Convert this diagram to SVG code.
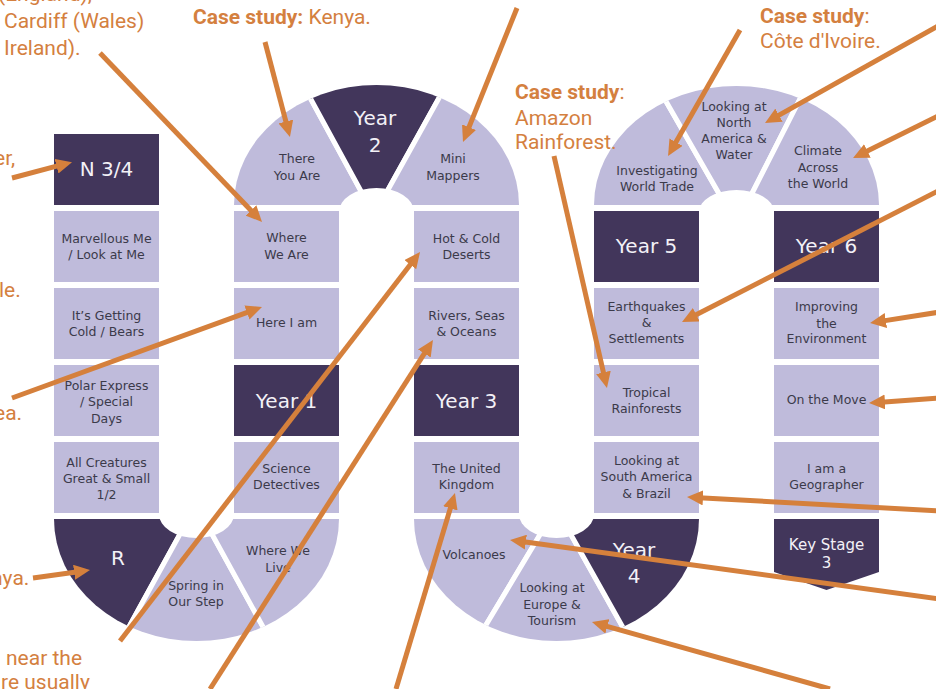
<svg xmlns="http://www.w3.org/2000/svg" width="936" height="689" viewBox="0 0 936 689">
<style>
.light{fill:#BFBBDB}
.dark{fill:#42365B}
.seg{stroke:#fff;stroke-width:5}
.t{font-family:"DejaVu Sans",sans-serif;font-size:12.5px;fill:#3b3a4a;text-anchor:middle}
.y{font-family:"DejaVu Sans",sans-serif;font-size:20px;fill:#F3F1F7;text-anchor:middle}
.k{font-family:"DejaVu Sans",sans-serif;font-size:15px;fill:#F3F1F7;text-anchor:middle}
.a{font-family:Roboto,sans-serif;font-size:21px;fill:#D4803F}
.b{font-weight:bold}
.hole{fill:#fff}
.arrow{stroke:#D5803C;stroke-width:5;fill:none;marker-end:url(#ah)}
</style>
<defs>
<marker id="ah" markerUnits="userSpaceOnUse" markerWidth="16" markerHeight="15" refX="4" refY="7.5" orient="auto" viewBox="0 0 16 15"><path d="M0,0 L16,7.5 L0,15 z" fill="#D5803C"/></marker>
<clipPath id="clipA"><path d="M234,205 A142.5,120 0 0 1 519,205 Z"/></clipPath>
<clipPath id="clipB"><path d="M594,205 A142.5,119 0 0 1 879,205 Z"/></clipPath>
<clipPath id="clipC"><path d="M54,519 A142.5,122 0 0 0 339,519 Z"/></clipPath>
<clipPath id="clipD"><path d="M414,519 A142.5,122 0 0 0 699,519 Z"/></clipPath>
</defs>
<rect width="936" height="689" fill="#fff"/>

<!-- Column 1 -->
<g id="n34"><rect class="dark" x="54" y="134" width="105" height="71"/><text class="y" x="106.5" y="176">N 3/4</text></g>
<g id="marvellous"><rect class="light" x="54" y="211" width="105" height="71"/><text class="t" x="106.5" y="242.5">Marvellous Me</text><text class="t" x="106.5" y="258.5">/ Look at Me</text></g>
<g id="getting-cold"><rect class="light" x="54" y="288" width="105" height="71"/><text class="t" x="106.5" y="319.5">It’s Getting</text><text class="t" x="106.5" y="335.5">Cold / Bears</text></g>
<g id="polar-express"><rect class="light" x="54" y="365" width="105" height="71"/><text class="t" x="106.5" y="389.5">Polar Express</text><text class="t" x="106.5" y="406">/ Special</text><text class="t" x="106.5" y="422.5">Days</text></g>
<g id="all-creatures"><rect class="light" x="54" y="442" width="105" height="71"/><text class="t" x="106.5" y="467">All Creatures</text><text class="t" x="106.5" y="483">Great &amp; Small</text><text class="t" x="106.5" y="499">1/2</text></g>

<!-- Column 2 -->
<g id="where-we-are"><rect class="light" x="234" y="211" width="105" height="71"/><text class="t" x="286.5" y="242">Where</text><text class="t" x="286.5" y="258.5">We Are</text></g>
<g id="here-i-am"><rect class="light" x="234" y="288" width="105" height="71"/><text class="t" x="286.5" y="327">Here I am</text></g>
<g id="year1"><rect class="dark" x="234" y="365" width="105" height="71"/><text class="y" x="286.5" y="407.5">Year 1</text></g>
<g id="science"><rect class="light" x="234" y="442" width="105" height="71"/><text class="t" x="286.5" y="473">Science</text><text class="t" x="286.5" y="489">Detectives</text></g>

<!-- Column 3 -->
<g id="hot-cold"><rect class="light" x="414" y="211" width="105" height="71"/><text class="t" x="466.5" y="242.5">Hot &amp; Cold</text><text class="t" x="466.5" y="258.5">Deserts</text></g>
<g id="rivers"><rect class="light" x="414" y="288" width="105" height="71"/><text class="t" x="466.5" y="319.5">Rivers, Seas</text><text class="t" x="466.5" y="335.5">&amp; Oceans</text></g>
<g id="year3"><rect class="dark" x="414" y="365" width="105" height="71"/><text class="y" x="466.5" y="407.5">Year 3</text></g>
<g id="uk"><rect class="light" x="414" y="442" width="105" height="71"/><text class="t" x="466.5" y="473">The United</text><text class="t" x="466.5" y="489">Kingdom</text></g>

<!-- Column 4 -->
<g id="year5"><rect class="dark" x="594" y="211" width="105" height="71"/><text class="y" x="646.5" y="253">Year 5</text></g>
<g id="earthquakes"><rect class="light" x="594" y="288" width="105" height="71"/><text class="t" x="646.5" y="311">Earthquakes</text><text class="t" x="646.5" y="327">&amp;</text><text class="t" x="646.5" y="343">Settlements</text></g>
<g id="tropical"><rect class="light" x="594" y="365" width="105" height="71"/><text class="t" x="646.5" y="397">Tropical</text><text class="t" x="646.5" y="413">Rainforests</text></g>
<g id="south-america"><rect class="light" x="594" y="442" width="105" height="71"/><text class="t" x="646.5" y="465">Looking at</text><text class="t" x="646.5" y="481">South America</text><text class="t" x="646.5" y="497.5">&amp; Brazil</text></g>

<!-- Column 5 -->
<g id="year6"><rect class="dark" x="774" y="211" width="105" height="71"/><text class="y" x="826.5" y="253">Year 6</text></g>
<g id="improving"><rect class="light" x="774" y="288" width="105" height="71"/><text class="t" x="826.5" y="311">Improving</text><text class="t" x="826.5" y="327.5">the</text><text class="t" x="826.5" y="343">Environment</text></g>
<g id="on-the-move"><rect class="light" x="774" y="365" width="105" height="71"/><text class="t" x="826.5" y="404">On the Move</text></g>
<g id="geographer"><rect class="light" x="774" y="442" width="105" height="71"/><text class="t" x="826.5" y="473">I am a</text><text class="t" x="826.5" y="489">Geographer</text></g>
<g id="key-stage-3"><polygon class="dark" points="774,519 879,519 879,572 826.5,590 774,572"/><text class="k" x="826.5" y="550">Key Stage</text><text class="k" x="826.5" y="568">3</text></g>

<!-- Arch A (top, columns 2-3) -->
<g id="there-you-are"><polygon class="light seg" clip-path="url(#clipA)" points="374,215 271,26 150,26 150,215"/><text class="t" x="297" y="163">There</text><text class="t" x="297" y="180">You Are</text></g>
<g id="year2"><polygon class="dark seg" clip-path="url(#clipA)" points="374,215 271,26 479,26"/><text class="y" x="375" y="125">Year</text><text class="y" x="375" y="152">2</text></g>
<g id="mini-mappers"><polygon class="light seg" clip-path="url(#clipA)" points="374,215 479,26 600,26 600,215"/><text class="t" x="453" y="163">Mini</text><text class="t" x="453" y="180">Mappers</text></g>

<!-- Arch B (top, columns 4-5) -->
<g id="world-trade"><polygon class="light seg" clip-path="url(#clipB)" points="736.5,224 625,30 560,30 560,224"/><text class="t" x="657" y="175">Investigating</text><text class="t" x="657" y="191">World Trade</text></g>
<g id="north-america"><polygon class="light seg" clip-path="url(#clipB)" points="736.5,224 625,30 835,30"/><text class="t" x="734" y="111">Looking at</text><text class="t" x="734" y="127">North</text><text class="t" x="734" y="143">America &amp;</text><text class="t" x="734" y="159">Water</text></g>
<g id="climate"><polygon class="light seg" clip-path="url(#clipB)" points="736.5,224 835,30 920,30 920,224"/><text class="t" x="818" y="155">Climate</text><text class="t" x="818" y="171.5">Across</text><text class="t" x="818" y="187.5">the World</text></g>

<!-- Arch C (bottom, columns 1-2) -->
<g id="reception"><polygon class="dark seg" clip-path="url(#clipC)" points="196,505 108,665 20,665 20,505"/><text class="y" x="118" y="565">R</text></g>
<g id="spring"><polygon class="light seg" clip-path="url(#clipC)" points="196,505 108,665 284,665"/><text class="t" x="196" y="590">Spring in</text><text class="t" x="196" y="606">Our Step</text></g>
<g id="where-we-live"><polygon class="light seg" clip-path="url(#clipC)" points="196,505 284,665 380,665 380,505"/><text class="t" x="278" y="555">Where We</text><text class="t" x="278" y="572">Live</text></g>

<!-- Arch D (bottom, columns 3-4) -->
<g id="volcanoes"><polygon class="light seg" clip-path="url(#clipD)" points="556,508 462,665 380,665 380,508"/><text class="t" x="474" y="559">Volcanoes</text></g>
<g id="europe"><polygon class="light seg" clip-path="url(#clipD)" points="556,508 462,665 644,665"/><text class="t" x="552" y="592">Looking at</text><text class="t" x="552" y="608.5">Europe &amp;</text><text class="t" x="552" y="625">Tourism</text></g>
<g id="year4"><polygon class="dark seg" clip-path="url(#clipD)" points="556,508 644,665 740,665 740,508"/><text class="y" x="634" y="557">Year</text><text class="y" x="634" y="583">4</text></g>

<!-- Holes of the track -->
<g id="holes">
<path class="hole" d="M339,262 L339,212 A37.5,24 0 0 1 414,212 L414,262 Z"/>
<path class="hole" d="M699,262 L699,212 A37.5,22 0 0 1 774,212 L774,262 Z"/>
<path class="hole" d="M159,466 L159,514 A37.5,24 0 0 0 234,514 L234,466 Z"/>
<path class="hole" d="M519,466 L519,514 A37.5,24 0 0 0 594,514 L594,466 Z"/>
</g>

<!-- Annotation texts -->
<g id="annotations">
<text class="a" x="-2" y="1">(England),</text>
<text class="a" x="4" y="28">Cardiff (Wales)</text>
<text class="a" x="4" y="55">Ireland).</text>
<text class="a" x="-6" y="165">er,</text>
<text class="a" x="-1" y="297">le.</text>
<text class="a" x="-6" y="420">ea.</text>
<text class="a" x="-9" y="585">nya.</text>
<text class="a" x="6" y="665">near the</text>
<text class="a" x="1" y="689">re usually</text>
<text class="a" x="193" y="24"><tspan class="b">Case study:</tspan> Kenya.</text>
<text class="a" x="515" y="99"><tspan class="b">Case study</tspan>:</text>
<text class="a" x="515" y="124.5">Amazon</text>
<text class="a" x="515" y="149">Rainforest.</text>
<text class="a" x="760" y="23"><tspan class="b">Case study</tspan>:</text>
<text class="a" x="760" y="48">Côte d'Ivoire.</text>
</g>

<!-- Connectors -->
<g id="connectors">
<line class="arrow" x1="100" y1="53" x2="253.7" y2="213.3"/>
<line class="arrow" x1="12" y1="178" x2="60.4" y2="165.2"/>
<line class="arrow" x1="12" y1="398" x2="250.7" y2="311.1"/>
<line class="arrow" x1="33" y1="578" x2="78.1" y2="571.7"/>
<line class="arrow" x1="120" y1="641" x2="412.7" y2="261.5"/>
<line class="arrow" x1="210" y1="689" x2="426.5" y2="350.1"/>
<line class="arrow" x1="396" y1="689" x2="451.5" y2="504.5"/>
<line class="arrow" x1="265" y1="42" x2="286.9" y2="125.4"/>
<line class="arrow" x1="517" y1="8" x2="467.5" y2="130.9"/>
<line class="arrow" x1="554" y1="156" x2="604.3" y2="376.3"/>
<line class="arrow" x1="740" y1="30" x2="674" y2="145.6"/>
<line class="arrow" x1="940" y1="25" x2="775.5" y2="117.1"/>
<line class="arrow" x1="940" y1="115" x2="863.8" y2="152.7"/>
<line class="arrow" x1="940" y1="190" x2="692.7" y2="316.5"/>
<line class="arrow" x1="940" y1="312" x2="881.9" y2="321.1"/>
<line class="arrow" x1="940" y1="398" x2="881" y2="402.2"/>
<line class="arrow" x1="940" y1="511" x2="699" y2="497.7"/>
<line class="arrow" x1="940" y1="599" x2="521.9" y2="541.6"/>
<line class="arrow" x1="830" y1="689" x2="603.5" y2="625.3"/>
</g>
</svg>
